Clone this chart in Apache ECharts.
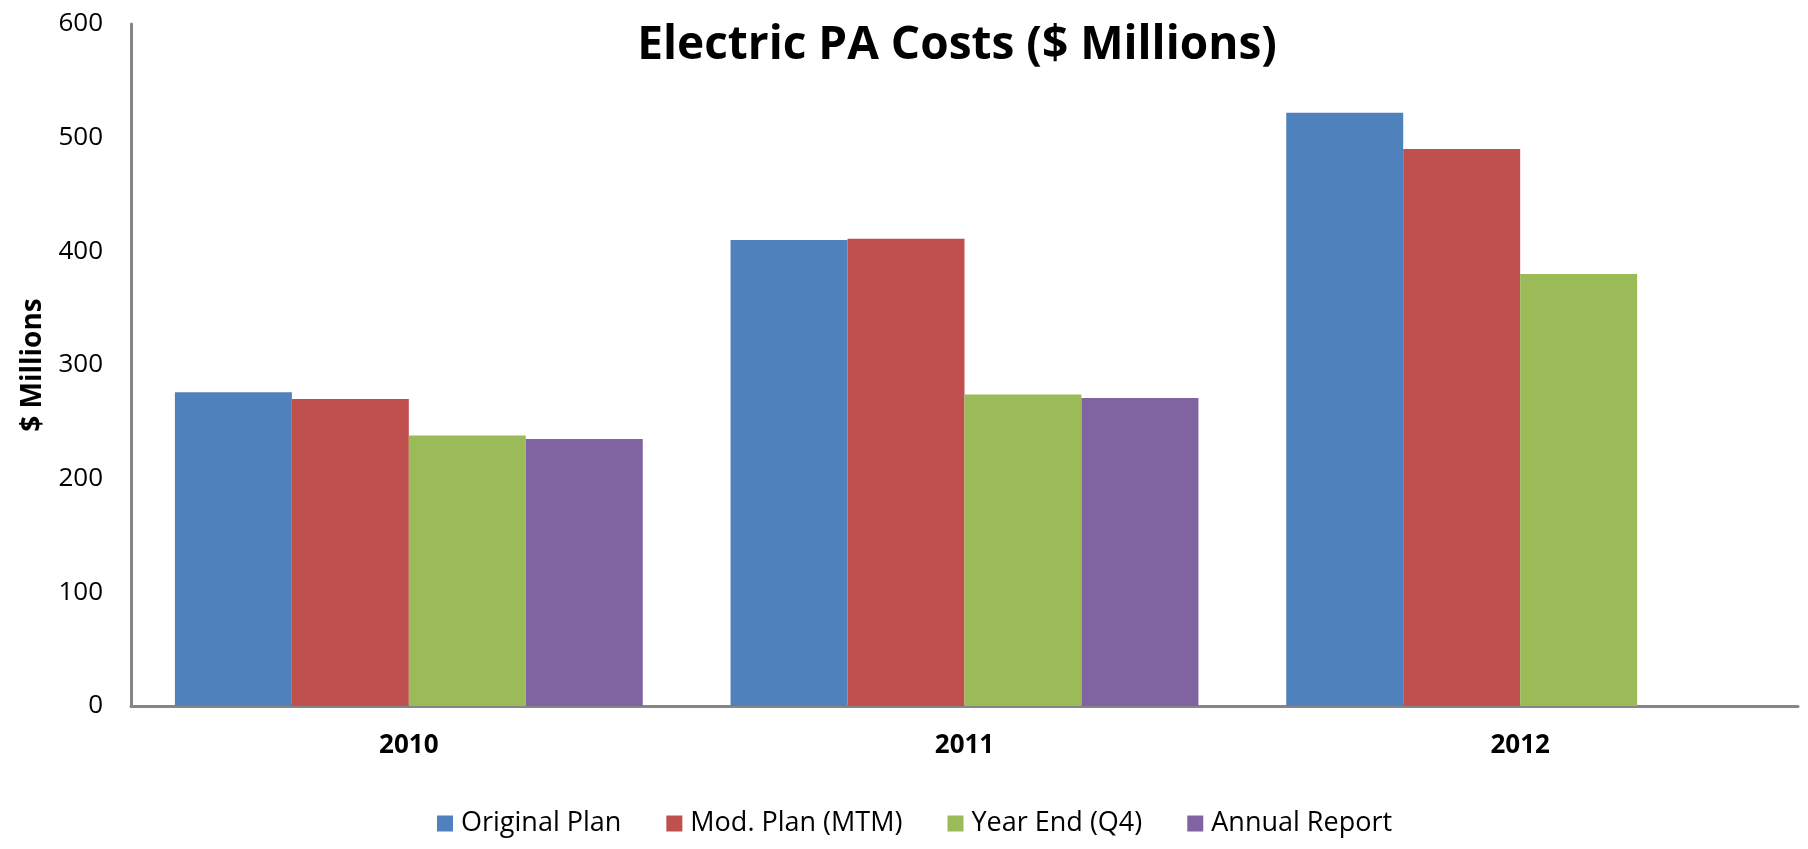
<!DOCTYPE html>
<html>
<head>
<meta charset="utf-8">
<script src="https://cdn.jsdelivr.net/npm/echarts@6/dist/echarts.min.js"></script>
<style>
  html, body { margin: 0; padding: 0; background: #fff; }
  #chart { width: 1808px; height: 849px; }
</style>
</head>
<body>
<div id="chart"></div>
<script>
// 数据
const years = ['2010', '2011', '2012']
const originalPlan = [276, 410, 522]
const modPlan = [270, 411, 490]
const yearEnd = [238, 274, 380]
const annualReport = [235, 271, null]
const yTicks = [0, 100, 200, 300, 400, 500, 600]

const font = '"Open Sans", "Noto Sans", sans-serif'
const axisGray = '#868686'

const chart = echarts.init(document.getElementById('chart'))

const bar = (name, data, color) => ({
  name,
  type: 'bar',
  data,
  barGap: '0%',
  barCategoryGap: '15.8%',
  itemStyle: { color },
  emphasis: { disabled: true }
})

chart.setOption({
  animation: false,
  textStyle: { fontFamily: font },
  title: {
    text: 'Electric PA Costs ($ Millions)',
    left: 952,
    textAlign: 'center',
    top: 18,
    textStyle: { fontSize: 46, fontWeight: 'bold', color: '#000', fontFamily: font }
  },
  grid: { left: 131, right: 10, top: 24, bottom: 143, containLabel: false },
  legend: {
    bottom: 7,
    left: 432,
    itemWidth: 16,
    itemHeight: 16,
    itemGap: 45,
    icon: 'rect',
    textStyle: { fontSize: 27, color: '#000', fontFamily: font, padding: [0, 0, 0, 3] }
  },
  xAxis: {
    type: 'category',
    data: years,
    axisLine: { lineStyle: { color: axisGray, width: 3 } },
    axisTick: { show: false },
    axisLabel: { fontSize: 26, fontWeight: 'bold', color: '#000', margin: 27 }
  },
  yAxis: {
    type: 'value',
    min: yTicks[0],
    max: yTicks[yTicks.length - 1],
    interval: 100,
    name: '$ Millions',
    nameLocation: 'middle',
    nameGap: 84,
    nameTextStyle: { fontSize: 28, fontWeight: 'bold', color: '#000' },
    axisLine: { show: true, lineStyle: { color: axisGray, width: 3 } },
    axisTick: { show: false },
    splitLine: { show: false },
    axisLabel: { fontSize: 26, color: '#000', margin: 28 }
  },
  series: [
    bar('Original Plan', originalPlan, '#4F81BD'),
    bar('Mod. Plan (MTM)', modPlan, '#C0504D'),
    bar('Year End (Q4)', yearEnd, '#9BBB59'),
    bar('Annual Report', annualReport, '#8064A2')
  ]
})
</script>
</body>
</html>
